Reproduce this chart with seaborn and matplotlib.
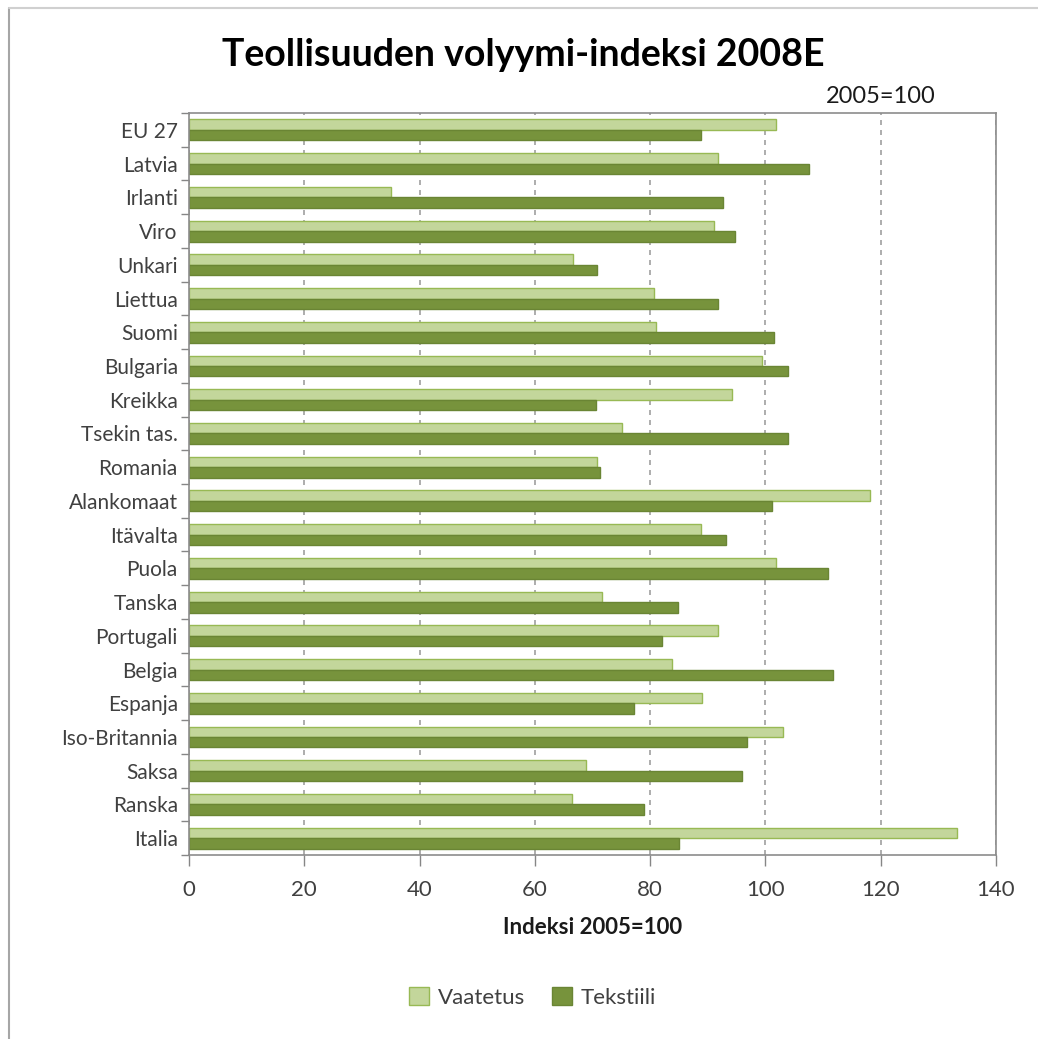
import matplotlib
matplotlib.use("Agg")
import matplotlib.pyplot as plt
import seaborn as sns
import pandas as pd
import numpy as np
from matplotlib.lines import Line2D
from matplotlib.ticker import FixedLocator

countries = ["EU 27", "Latvia", "Irlanti", "Viro", "Unkari", "Liettua", "Suomi",
             "Bulgaria", "Kreikka", "Tsekin tas.", "Romania", "Alankomaat", "Itävalta",
             "Puola", "Tanska", "Portugali", "Belgia", "Espanja", "Iso-Britannia",
             "Saksa", "Ranska", "Italia"]
vaatetus = [101.9, 91.8, 35.1, 91.1, 66.7, 80.7, 81.0, 99.4, 94.2, 75.2, 70.8,
            118.1, 88.8, 101.9, 71.6, 91.7, 83.8, 89.0, 103.0, 68.9, 66.5, 133.2]
tekstiili = [88.8, 107.5, 92.6, 94.8, 70.8, 91.7, 101.5, 103.9, 70.6, 103.9, 71.3,
             101.2, 93.2, 110.8, 84.8, 82.1, 111.7, 77.2, 96.8, 96.0, 79.0, 85.0]
series_names = ["Vaatetus", "Tekstiili"]
x_ticks = [0, 20, 40, 60, 80, 100, 120, 140]

df = pd.DataFrame({
    "maa": countries * 2,
    "arvo": vaatetus + tekstiili,
    "sarja": [series_names[0]] * len(countries) + [series_names[1]] * len(countries),
})

sns.set_theme(style="white")
plt.rcParams["font.family"] = ["Lato", "DejaVu Sans"]

light = "#c3d69b"
light_edge = "#98b954"
dark = "#77933c"
dark_edge = "#6a8534"
txt = "#404040"

fig = plt.figure(figsize=(10.38, 10.39), dpi=100)
ax = fig.add_axes([0.182, 0.1771, 0.7775, 0.7141])

sns.barplot(data=df, y="maa", x="arvo", hue="sarja", order=countries,
            hue_order=series_names, palette=[light, dark], orient="h",
            width=0.62, ax=ax, legend=False, saturation=1)

for i, p in enumerate(ax.patches):
    if i < len(countries):
        p.set_edgecolor(light_edge)
    else:
        p.set_edgecolor(dark_edge)
    p.set_linewidth(1.0)

ax.set_xlim(0, 140)
ax.set_ylim(len(countries) - 0.5, -0.5)
ax.set_xticks(x_ticks)
ax.set_xticklabels([str(t) for t in x_ticks], fontsize=16, color=txt)
ax.tick_params(axis="y", which="major", length=0, labelsize=15, labelcolor=txt, pad=8)
ax.yaxis.set_minor_locator(FixedLocator(np.arange(-0.5, len(countries) + 0.5, 1)))
ax.tick_params(axis="y", which="minor", length=6, color="#868686", width=1, direction="out", left=True)
ax.tick_params(axis="x", which="major", length=8, color="#868686", width=1, direction="out", bottom=True, pad=10)

ax.xaxis.grid(True, linestyle=(0, (3, 3)), color="#a0a0a0", linewidth=1.2)
ax.set_axisbelow(True)
for s in ax.spines.values():
    s.set_visible(True)
    s.set_color("#8c8c8c")
    s.set_linewidth(1.2)

ax.set_ylabel("")
ax.set_xlabel("Indeksi 2005=100", fontsize=16, fontweight="bold", color="#1a1a1a", labelpad=12)

fig.text(0.504, 0.947, "Teollisuuden volyymi-indeksi 2008E", ha="center", va="center",
         fontsize=27, fontweight="bold", color="#000000")
fig.text(0.901, 0.907, "2005=100", ha="right", va="center", fontsize=17, color="#1a1a1a")

handles = [plt.Rectangle((0, 0), 1, 1, facecolor=light, edgecolor=light_edge),
           plt.Rectangle((0, 0), 1, 1, facecolor=dark, edgecolor=dark_edge)]
fig.legend(handles, series_names, loc="center", bbox_to_anchor=(0.513, 0.04), ncol=2,
           frameon=False, fontsize=16, handlelength=0.9, handleheight=0.9,
           handletextpad=0.4, columnspacing=1.2, labelcolor=txt)

fig.add_artist(Line2D([0.009, 0.009], [0.0, 0.992], color="#a6a6a6", linewidth=1.5))
fig.add_artist(Line2D([0.009, 1.0], [0.992, 0.992], color="#d0d0d0", linewidth=1.5))

fig.savefig("out.png", dpi=100)
